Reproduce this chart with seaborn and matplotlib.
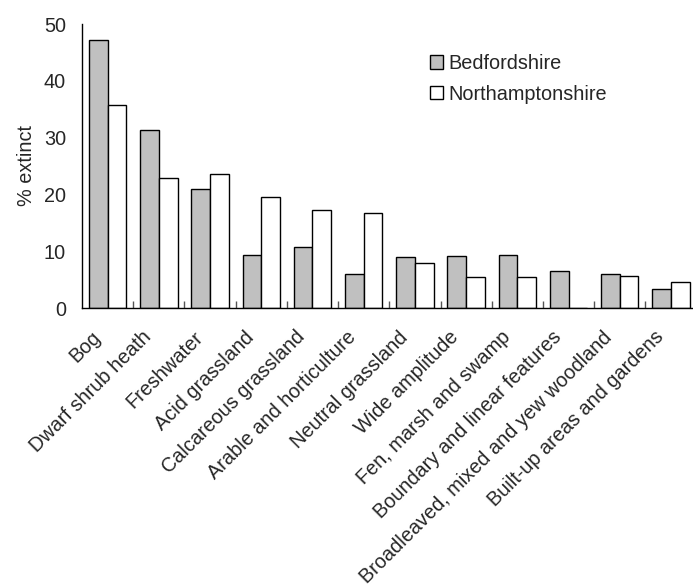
import numpy as np
import pandas as pd
import matplotlib.pyplot as plt
import matplotlib.transforms as mtransforms
import seaborn as sns
from matplotlib.ticker import FixedLocator

habitats = [
    "Bog", "Dwarf shrub heath", "Freshwater", "Acid grassland",
    "Calcareous grassland", "Arable and horticulture", "Neutral grassland",
    "Wide amplitude", "Fen, marsh and swamp", "Boundary and linear features",
    "Broadleaved, mixed and yew woodland", "Built-up areas and gardens",
]
bedfordshire = [47.1, 31.4, 21.0, 9.3, 10.7, 5.9, 8.9, 9.1, 9.3, 6.6, 6.0, 3.3]
northamptonshire = [35.8, 22.8, 23.6, 19.5, 17.2, 16.7, 7.9, 5.4, 5.4, 0.0, 5.6, 4.6]
counties = ["Bedfordshire", "Northamptonshire"]
yticks = [0, 10, 20, 30, 40, 50]

df = pd.DataFrame({
    "Habitat": habitats * 2,
    "County": [counties[0]] * len(habitats) + [counties[1]] * len(habitats),
    "Extinct": bedfordshire + northamptonshire,
})

sns.set_style("white")
plt.rcParams["font.family"] = ["Liberation Sans", "DejaVu Sans"]
plt.rcParams["font.size"] = 14.3

fig = plt.figure(figsize=(6.93, 5.87), dpi=100)
ax = fig.add_axes([82 / 693, 1 - 308 / 587, 611 / 693, 284 / 587])

sns.barplot(data=df, x="Habitat", y="Extinct", hue="County", order=habitats,
            hue_order=counties, palette={"Bedfordshire": "#c0c0c0", "Northamptonshire": "white"},
            edgecolor="black", linewidth=1, width=0.73, gap=0, ax=ax)

ax.set_ylim(0, 50)
ax.set_xlim(-0.5, 11.43)
ax.set_yticks(yticks)
ax.tick_params(axis="y", direction="in", length=4, width=1, color="black", pad=11.5, labelsize=14.3)
ax.set_ylabel("% extinct", fontsize=14.3, labelpad=6)
ax.set_xlabel("")

ax.set_xticks(range(len(habitats)))
ax.set_xticklabels(habitats, rotation=45, ha="right", rotation_mode="anchor", fontsize=14.3)
ax.tick_params(axis="x", which="major", length=0, pad=14)
# nudge the rotated labels left so their ends sit just left of each group centre
shift = mtransforms.ScaledTranslation(-17 / 100, 0, fig.dpi_scale_trans)
for lbl in ax.get_xticklabels():
    lbl.set_transform(lbl.get_transform() + shift)
ax.xaxis.set_minor_locator(FixedLocator(np.arange(0.5, len(habitats) - 1, 1)))
ax.tick_params(axis="x", which="minor", direction="in", length=5, width=1, color="#555555", bottom=True)

for side in ["top", "right"]:
    ax.spines[side].set_visible(False)
for side in ["left", "bottom"]:
    ax.spines[side].set_color("black")
    ax.spines[side].set_linewidth(1)

leg = ax.legend(loc="upper left", bbox_to_anchor=(430 / 693, 1 - 54 / 587),
                bbox_transform=fig.transFigure, frameon=False, fontsize=14.3,
                handlelength=0.65, handleheight=0.65, handletextpad=0.3,
                labelspacing=0.58, borderpad=0, borderaxespad=0)

fig.savefig("out.png", dpi=100)
